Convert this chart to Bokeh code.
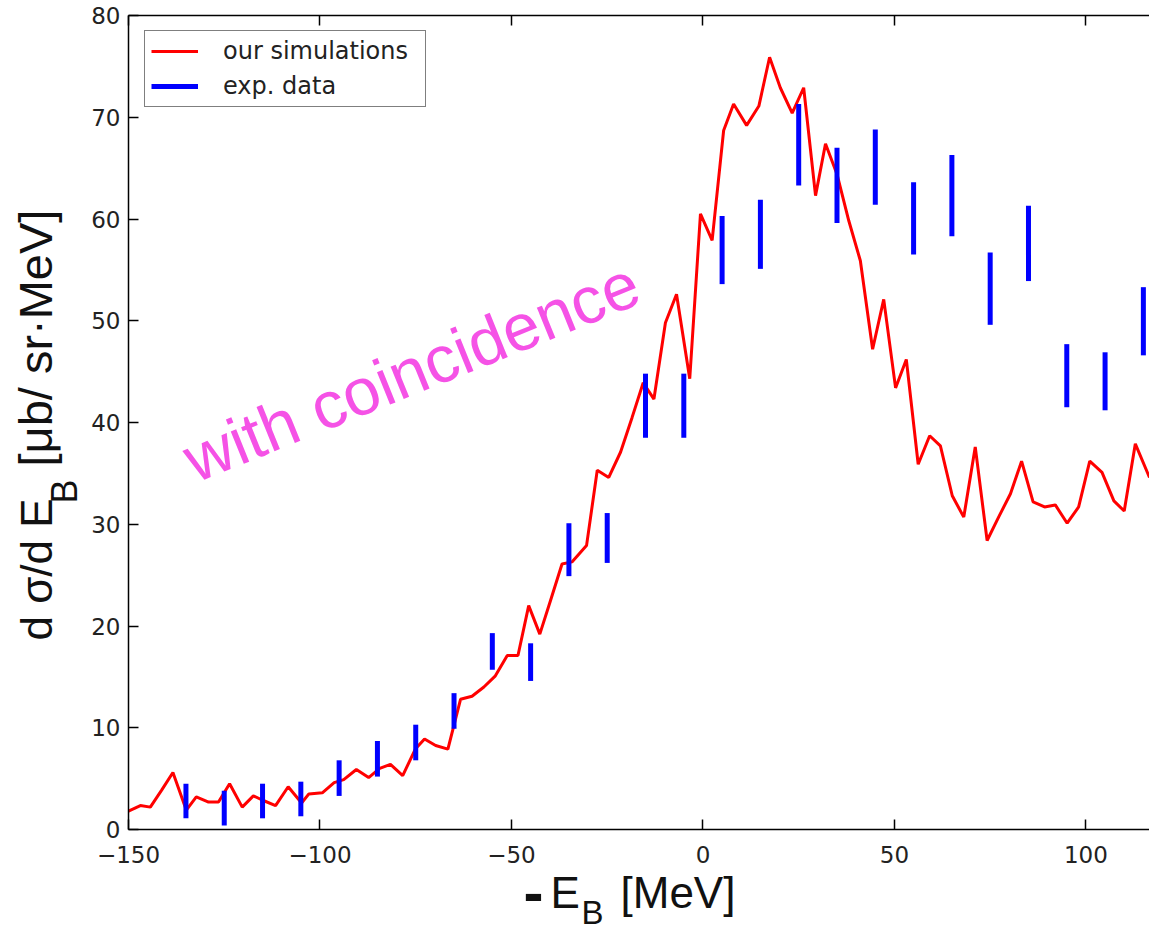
import math
from bokeh.plotting import figure
from bokeh.models import Range1d, LinearAxis, FixedTicker, Label
from bokeh.embed import file_html
from bokeh.resources import INLINE

# ---- data ----
sim_x = [-150, -146.9, -144.3, -141.3, -138.4, -134.9, -132.3, -129.1, -126.5, -123.6,
         -120.3, -117.4, -114.8, -111.6, -108.3, -104.8, -102.9, -99.4, -96.3, -93.8,
         -90.5, -87.3, -84.4, -81.6, -78.4, -75.1, -72.7, -69.8, -66.6, -63.3,
         -60.3, -57.2, -54.2, -51.1, -48.3, -45.5, -42.6, -39.8, -36.8, -34.2,
         -30.4, -27.6, -24.6, -21.5, -18.5, -15.6, -12.8, -9.8, -6.9, -3.45,
         -0.65, 2.4, 5.4, 8.0, 11.4, 14.6, 17.4, 20.2, 23.3, 26.3,
         29.4, 32.0, 35.0, 38.1, 41.1, 44.3, 47.2, 50.3, 53.1, 56.2,
         59.2, 62.0, 65.1, 68.1, 71.1, 74.2, 77.2, 80.3, 83.2, 86.2,
         89.2, 92.0, 95.1, 98.1, 101.0, 104.2, 107.3, 110.0, 112.9, 116.6]
sim_y = [1.8, 2.35, 2.2, 3.9, 5.6, 1.9, 3.2, 2.7, 2.7, 4.5,
         2.2, 3.3, 2.85, 2.35, 4.2, 2.6, 3.5, 3.6, 4.6, 4.9,
         5.9, 5.1, 6.0, 6.4, 5.3, 7.9, 8.9, 8.25, 7.9, 12.8,
         13.1, 14.0, 15.1, 17.1, 17.1, 22.0, 19.2, 22.5, 26.1, 26.3,
         27.9, 35.3, 34.6, 37.1, 40.5, 43.9, 42.3, 49.8, 52.6, 44.3,
         60.5, 57.9, 68.7, 71.3, 69.2, 71.1, 75.9, 72.9, 70.4, 72.9,
         62.3, 67.4, 64.4, 59.8, 55.9, 47.2, 52.1, 43.4, 46.2, 35.9,
         38.7, 37.7, 32.8, 30.7, 37.6, 28.4, 30.7, 33.0, 36.2, 32.2,
         31.7, 31.9, 30.1, 31.7, 36.2, 35.1, 32.3, 31.3, 37.9, 34.6]

exp_x = [-135, -125, -115, -105, -95, -85, -75, -65, -55, -45, -35, -25, -15,
         -5, 5, 15, 25, 35, 45, 55, 65, 75, 85, 95, 105, 115]
exp_lo = [1.1, 0.4, 1.1, 1.3, 3.3, 5.2, 6.8, 9.9, 15.7, 14.6, 24.9, 26.2, 38.5,
          38.5, 53.6, 55.1, 63.3, 59.6, 61.4, 56.5, 58.3, 49.6, 53.9, 41.5, 41.2, 46.6]
exp_hi = [4.5, 3.8, 4.5, 4.7, 6.8, 8.7, 10.3, 13.4, 19.3, 18.3, 30.1, 31.1, 44.8,
          44.8, 60.3, 61.9, 71.3, 67.0, 68.8, 63.6, 66.3, 56.7, 61.3, 47.7, 46.9, 53.3]

x_ticks = [-150, -100, -50, 0, 50, 100]
x_tick_labels = ["\u2212150", "\u2212100", "\u221250", "0", "50", "100"]
y_ticks = [0, 10, 20, 30, 40, 50, 60, 70, 80]
y_tick_labels = ["0", "10", "20", "30", "40", "50", "60", "70", "80"]

series_names = ["our simulations", "exp. data"]

# ---- layout geometry (pixels) ----
W, H = 1149, 931
FRAME_L, FRAME_R, FRAME_T, FRAME_B = 128, 1149, 15, 829   # data box in canvas pixels
X0, X1 = -150.0, 116.6
Y0, Y1 = 0.0, 80.0
sx_per = (FRAME_R - FRAME_L) / (X1 - X0)
sy_per = (FRAME_B - FRAME_T) / (Y1 - Y0)
xr = Range1d(X0 - FRAME_L / sx_per, X1 + (W - FRAME_R) / sx_per)
yr = Range1d(Y0 - (H - FRAME_B) / sy_per, Y1 + FRAME_T / sy_per)

p = figure(width=W, height=H, x_range=xr, y_range=yr,
           output_backend="svg", toolbar_location=None, min_border=0,
           x_axis_location=None, y_axis_location=None)
p.outline_line_color = None
p.xgrid.grid_line_color = None
p.ygrid.grid_line_color = None
p.background_fill_color = "white"
p.border_fill_color = "white"

tick_font = "DejaVu Sans"

def style_axis(ax, labels=True):
    ax.axis_line_color = "black"
    ax.axis_line_width = 1.5
    ax.major_tick_line_color = "black"
    ax.major_tick_line_width = 1.5
    ax.major_tick_in = 10
    ax.major_tick_out = 0
    ax.minor_tick_line_color = None
    ax.major_label_text_font = tick_font
    ax.major_label_text_font_size = "23px"
    ax.major_label_text_color = "#222222" if labels else None

bottom = LinearAxis(ticker=FixedTicker(ticks=x_ticks), fixed_location=Y0, bounds=(X0, X1))
style_axis(bottom)
bottom.major_label_overrides = dict(zip(x_ticks, x_tick_labels))
bottom.major_label_standoff = 16
p.add_layout(bottom, "below")

left = LinearAxis(ticker=FixedTicker(ticks=y_ticks), fixed_location=X0, bounds=(Y0, Y1))
style_axis(left)
left.major_label_overrides = dict(zip(y_ticks, y_tick_labels))
left.major_label_standoff = 8
p.add_layout(left, "left")

top = LinearAxis(ticker=FixedTicker(ticks=x_ticks), fixed_location=Y1, bounds=(X0, X1))
style_axis(top, labels=False)
p.add_layout(top, "above")

# ---- data marks ----
p.line(sim_x, sim_y, line_color="#FF0000", line_width=3.0, legend_label=series_names[0])
p.segment(x0=exp_x, y0=exp_lo, x1=exp_x, y1=exp_hi, line_color="#0000FF", line_width=5,
          legend_label=series_names[1])

# ---- legend ----
lg = p.legend[0]
lg.location = (144, H - 107)
lg.padding = 6
lg.spacing = 7
lg.margin = 0
lg.label_height = 26
lg.glyph_height = 26
lg.glyph_width = 47
lg.label_standoff = 25
lg.label_width = 196
lg.label_text_font = "DejaVu Sans"
lg.label_text_font_size = "24px"
lg.label_text_color = "#222222"
lg.border_line_color = "black"
lg.border_line_width = 1.5
lg.background_fill_color = "white"
lg.background_fill_alpha = 1.0

# ---- axis titles (composed for subscripts) ----
lab_font = "Liberation Sans"
K = 0.27  # baseline correction, in em

def add_label(text, px, py, size, angle=0.0, style="normal", color="#111111"):
    # px, py: wanted baseline start in canvas pixels (y down)
    qx = px - K * size * math.sin(angle)
    qy = py - K * size * math.cos(angle)
    p.add_layout(Label(x=qx, y=H - qy, x_units="screen", y_units="screen", text=text,
                       text_font=lab_font, text_font_size=f"{size}px", text_font_style=style,
                       text_color=color, angle=angle, text_align="left",
                       text_baseline="alphabetic"))

# x title: "- E_B [MeV]"
add_label("-", 523, 908, 60, style="bold")
add_label("E", 550, 904, 44)
add_label("B", 581, 921, 33)
add_label("[MeV]", 620, 904, 44)

# y title: "d σ/d E_B [μb/ sr·MeV]"
add_label("d \u03c3/d E", 48, 640, 44, angle=math.pi / 2)
add_label("B", 74, 503, 36, angle=math.pi / 2)
add_label("[\u03bcb/ sr\u00b7MeV]", 48, 466, 47, angle=math.pi / 2)

# annotation
add_label("with coincidence", 193, 478, 66, angle=math.radians(22), color="#F552E6")

open("out.html", "w").write(file_html(p, INLINE))
